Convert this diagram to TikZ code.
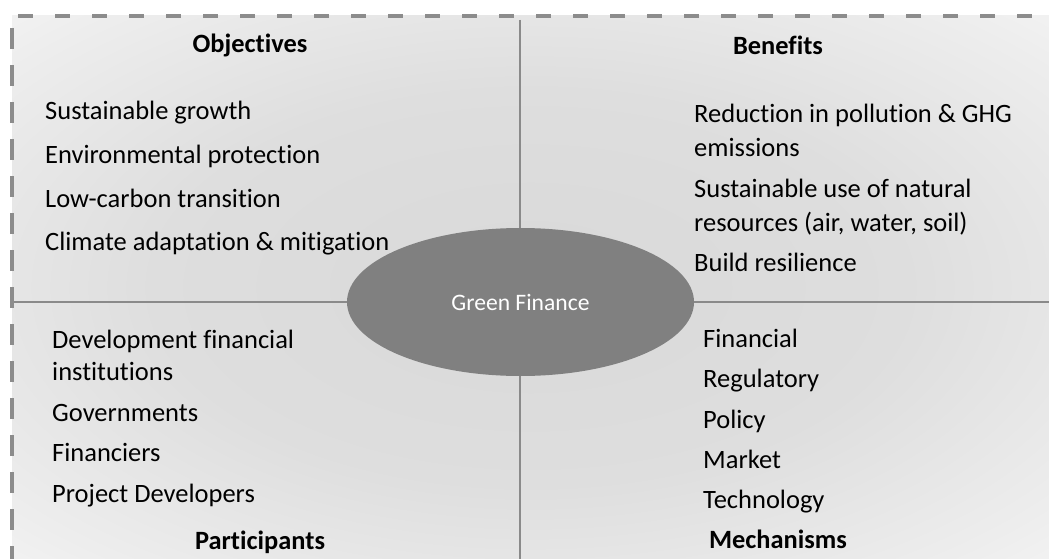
\documentclass[tikz,border=0pt]{standalone}
\usepackage{fontspec}
\setmainfont{Carlito}[Ligatures=NoCommon]
\usetikzlibrary{shapes.geometric}
\definecolor{linegray}{RGB}{138,138,138}
\definecolor{dashgray}{RGB}{140,140,140}
\definecolor{ellgray}{RGB}{128,128,128}
\pgfdeclareradialshading{softglow}{\pgfpoint{0bp}{0bp}}{color(0bp)=(black!15); color(18bp)=(black!13); color(32bp)=(black!7); color(46bp)=(white); color(50bp)=(white)}
\begin{document}
\begin{tikzpicture}[x=1pt,y=-1pt,
  item/.style={anchor=base west, inner sep=0pt, font=\fontsize{26.5}{30}\selectfont},
  head/.style={anchor=base, inner sep=0pt, font=\fontsize{26.4}{30}\selectfont\bfseries},
  quadline/.style={draw=linegray, line width=2.2pt},
  frameline/.style={draw=dashgray, line width=4pt}]
\useasboundingbox (0,0) rectangle (1049,559);
\shade[shading=softglow] (12,16) rectangle (1049,559);
% frame
\coordinate (ftl) at (18,16);
\coordinate (ftr) at (1049,16);
\coordinate (flt) at (12,28);
\coordinate (flb) at (12,559);
\draw[frameline, dash pattern=on 15pt off 22pt] (ftl) -- (ftr);
\draw[frameline, dash pattern=on 21pt off 16pt] (flt) -- (flb);
% quadrant lines
\coordinate (vt) at (520,20);
\coordinate (vb) at (520,559);
\coordinate (hl) at (14,302);
\coordinate (hr) at (1049,302);
\draw[quadline] (vt) -- (vb);
\draw[quadline] (hl) -- (hr);
% centre
\node[ellipse, fill=ellgray, minimum width=347pt, minimum height=148pt, inner sep=0pt,
      text=white, font=\fontsize{23.6}{28}\selectfont] (gf) at (520.5,302) {Green Finance};
% objectives
\node[head] (obj) at (250,53) {Objectives};
\node[item] (o1) at (45,120) {Sustainable growth};
\node[item] (o2) at (45,164) {Environmental protection};
\node[item] (o3) at (45,207) {Low-carbon transition};
\node[item] (o4) at (45,250) {Climate adaptation \& mitigation};
% benefits
\node[head] (ben) at (778,55) {Benefits};
\node[item] (b1) at (694,123) {Reduction in pollution \& GHG};
\node[item] (b1b) at (694,157) {emissions};
\node[item] (b2) at (694,197) {Sustainable use of natural};
\node[item] (b2b) at (694,231) {resources (air, water, soil)};
\node[item] (b3) at (694,271) {Build resilience};
% participants
\node[item] (p1) at (52,348) {Development financial};
\node[item] (p1b) at (52,380) {institutions};
\node[item] (p2) at (52,421) {Governments};
\node[item] (p3) at (52,461) {Financiers};
\node[item] (p4) at (52,502) {Project Developers};
\node[head] (par) at (260,549) {Participants};
% mechanisms
\node[item] (m1) at (703,347) {Financial};
\node[item] (m2) at (703,387) {Regulatory};
\node[item] (m3) at (703,428) {Policy};
\node[item] (m4) at (703,468) {Market};
\node[item] (m5) at (703,508) {Technology};
\node[head] (mec) at (778,548) {Mechanisms};
\end{tikzpicture}
\end{document}
